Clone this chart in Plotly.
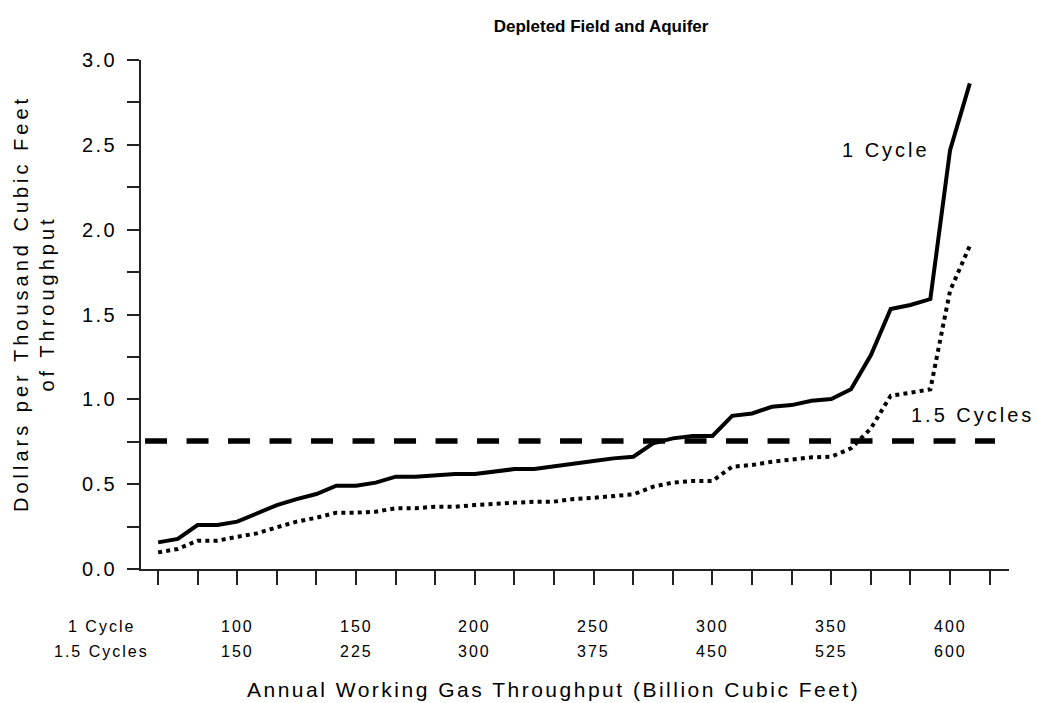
import plotly.graph_objects as go

# Cumulative annual working gas throughput, 1-cycle basis (billion cubic feet)
throughput_1cycle = [66.7, 75.0, 83.3, 91.7, 100.0, 108.3, 116.7, 125.0, 133.3, 141.7,
                     150.0, 158.3, 166.7, 175.0, 183.3, 191.7, 200.0, 208.3, 216.7, 225.0,
                     233.3, 241.7, 250.0, 258.3, 266.7, 275.0, 283.3, 291.7, 300.0, 308.3,
                     316.7, 325.0, 333.3, 341.7, 350.0, 358.3, 366.7, 375.0, 383.3, 391.7,
                     400.0, 408.3]

# Storage cost, dollars per thousand cubic feet of throughput
cost_1cycle = [0.157, 0.177, 0.259, 0.259, 0.279, 0.328, 0.377, 0.412, 0.442, 0.491,
               0.491, 0.509, 0.544, 0.544, 0.550, 0.560, 0.560, 0.573, 0.589, 0.589,
               0.603, 0.623, 0.636, 0.652, 0.662, 0.741, 0.770, 0.784, 0.784, 0.903,
               0.917, 0.956, 0.966, 0.992, 1.002, 1.059, 1.261, 1.532, 1.556, 1.591,
               2.469, 2.862]
cost_15cycles = [0.098, 0.118, 0.167, 0.167, 0.190, 0.210, 0.246, 0.279, 0.302, 0.332,
                 0.332, 0.338, 0.358, 0.358, 0.367, 0.367, 0.377, 0.383, 0.391, 0.397,
                 0.397, 0.412, 0.420, 0.430, 0.440, 0.485, 0.509, 0.519, 0.519, 0.603,
                 0.613, 0.632, 0.642, 0.658, 0.662, 0.711, 0.829, 1.021, 1.039, 1.059,
                 1.640, 1.905]

# Seasonal price spread used as the reference level
spread_x = [61.2, 418.9]
spread_level = [0.755, 0.755]

# Axis tick labels: throughput on the 1-cycle and 1.5-cycle bases
labels_1cycle = [100, 150, 200, 250, 300, 350, 400]
labels_15cycles = [150, 225, 300, 375, 450, 525, 600]
x_ticks = [200 / 3 + i * 50 / 3 for i in range(22)]
y_ticks = [i * 0.25 for i in range(13)]
y_ticktext = [f"{v:.1f}" if i % 2 == 0 else "" for i, v in enumerate(y_ticks)]

FONT = "Liberation Sans, Arial, sans-serif"


def spaced(text, px):
    return f'<span style="letter-spacing:{px}px">{text}</span>'


fig = go.Figure()

fig.add_trace(go.Scatter(
    x=spread_x, y=spread_level, mode="lines",
    line=dict(color="black", width=5.5, dash="22px,19.5px"),
    hoverinfo="skip", showlegend=False))

fig.add_trace(go.Scatter(
    x=throughput_1cycle, y=cost_15cycles, mode="lines", name="1.5 Cycles",
    line=dict(color="black", width=4, dash="4px,4.2px"), showlegend=False))

fig.add_trace(go.Scatter(
    x=throughput_1cycle, y=cost_1cycle, mode="lines", name="1 Cycle",
    line=dict(color="black", width=4), showlegend=False))

annotations = []

# Series labels inside the plot
annotations.append(dict(x=373.1, y=2.469, xref="x", yref="y", text=spaced("1 Cycle", 3),
                        showarrow=False, xanchor="center", yanchor="middle",
                        font=dict(family=FONT, size=20, color="black")))
annotations.append(dict(x=409.5, y=0.907, xref="x", yref="y", text=spaced("1.5 Cycles", 3),
                        showarrow=False, xanchor="center", yanchor="middle",
                        font=dict(family=FONT, size=20, color="black")))

# Two rows of x tick labels
row_y = [-0.112, -0.163]
for a, b in zip(labels_1cycle, labels_15cycles):
    for lab, yy in zip((a, b), row_y):
        annotations.append(dict(x=a, y=yy, xref="x", yref="paper", text=spaced(lab, 2),
                                showarrow=False, xanchor="center", yanchor="middle",
                                font=dict(family=FONT, size=16, color="black")))
for lab, yy in zip(("1 Cycle", "1.5 Cycles"), row_y):
    annotations.append(dict(x=-0.046, y=yy, xref="paper", yref="paper", text=spaced(lab, 2),
                            showarrow=False, xanchor="center", yanchor="middle",
                            font=dict(family=FONT, size=16, color="black")))

# Axis titles
annotations.append(dict(x=0.4747, y=-0.2377, xref="paper", yref="paper",
                        text=spaced("Annual Working Gas Throughput (Billion Cubic Feet)", 2.5),
                        showarrow=False, xanchor="center", yanchor="middle",
                        font=dict(family=FONT, size=21, color="black")))
annotations.append(dict(x=-0.1233, y=0.5226, xref="paper", yref="paper",
                        text=spaced("Dollars per Thousand Cubic Feet", 4) + "<br>" +
                        spaced("of Throughput", 4),
                        textangle=-90, showarrow=False, xanchor="center", yanchor="middle",
                        font=dict(family=FONT, size=20, color="black")))

fig.update_layout(
    width=1038, height=703,
    margin=dict(l=141, r=29, t=60, b=134),
    paper_bgcolor="white", plot_bgcolor="white",
    title=dict(text="<b>Depleted Field and Aquifer</b>", x=0.53, xref="paper",
               y=1 - 26 / 703, yref="container", xanchor="center", yanchor="middle",
               font=dict(family=FONT, size=17, color="black")),
    annotations=annotations,
    xaxis=dict(range=[59.5, 424.8], showgrid=False, zeroline=False,
               showline=True, linecolor="#222", linewidth=1.5,
               ticks="outside", ticklen=14, tickwidth=1.5, tickcolor="#222",
               tickmode="array", tickvals=x_ticks, showticklabels=False),
    yaxis=dict(range=[0, 3.0], showgrid=False, zeroline=False,
               showline=True, linecolor="#222", linewidth=1.5,
               ticks="outside", ticklen=12, tickwidth=1.5, tickcolor="#222",
               tickmode="array", tickvals=y_ticks,
               ticktext=[spaced(t, 2.5) if t else "" for t in y_ticktext],
               tickfont=dict(family=FONT, size=20, color="black"),
               ticklabelstandoff=6),
)

fig.write_html("out.html")
